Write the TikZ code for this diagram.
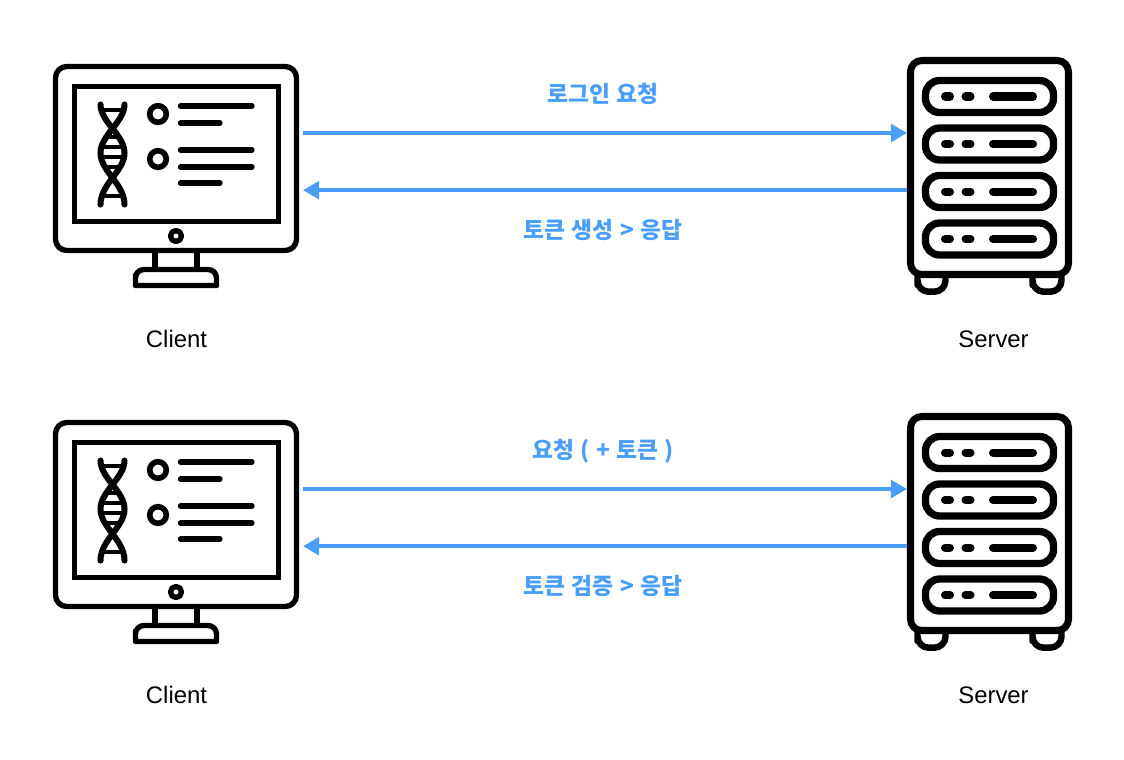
\documentclass[tikz,border=0pt]{standalone}
\usepackage{fontspec}
\setmainfont{Liberation Sans}
\newfontfamily\kofont[WordSpace=1.2]{Noto Sans CJK KR}
\usetikzlibrary{arrows.meta}
\definecolor{flowblue}{HTML}{4A9EFA}
\tikzset{
    icon/.style={line width=3.8pt, line join=round, line cap=round},
    flow/.style={draw=flowblue, line width=2.8pt, -{Triangle[length=11.5pt,width=12.5pt]}},
    flowtext/.style={text=flowblue, font=\kofont\bfseries\fontsize{16.2}{18}\selectfont, inner sep=0pt},
    hosttext/.style={font=\fontsize{17}{20}\selectfont, inner sep=0pt},
    client/.pic={
        % Ecran
        \draw[icon, rounded corners=8] (55.5,66.5) rectangle (296.5,250.5);
        \draw[icon, line join=miter] (74.5,86.5) rectangle (278.5,221.5);
        \draw[icon] (176,236) circle (5.5);
        % Pied
        \draw[icon, line cap=butt] (155,253) -- (155,268);
        \draw[icon, line cap=butt] (197,253) -- (197,268);
        \draw[icon] (135.5,285.5) -- (135.5,275) [rounded corners=6] -- (135.5,269.5) -- (216.5,269.5) [sharp corners] -- (216.5,285.5) -- cycle;
        % Lignes de texte
        \draw[icon, line width=4pt] (158,114) circle (8.3);
        \draw[icon, line width=4pt] (158,159) circle (8.3);
        \foreach \ly/\lx in {106/252, 123/220, 150/252, 167/252, 183/220}
            \draw[icon] (180.5,\ly) -- (\lx,\ly);
        % Adn
        \draw[icon, line width=4.3pt] (124.5,104.5) .. controls (124.5,122) and (100.5,135) .. (100.5,153) .. controls (100.5,171) and (124.5,184) .. (124.5,204.5);
        \draw[icon, line width=4.3pt] (100.5,104.5) .. controls (100.5,122) and (124.5,135) .. (124.5,153) .. controls (124.5,171) and (100.5,184) .. (100.5,204.5);
        \foreach \ry/\rw in {110/10, 137/7, 147/11, 157/11, 167/7, 196/10}
            \draw[icon, line width=2.9pt, line cap=butt] (112.5-\rw,\ry) -- (112.5+\rw,\ry);
        % Points d'accroche
        \coordinate (-upper) at (303,133);
        \coordinate (-lower) at (303,190.2);
    },
    server/.pic={
        % Pieds
        \draw[icon, line width=4.6pt] (917.5,276) -- (917.5,285) [rounded corners=8] -- (917.5,291.7) -- (945.5,291.7) [sharp corners] -- (945.5,276);
        \draw[icon, line width=4.6pt] (1032.5,276) -- (1032.5,285) [rounded corners=8] -- (1032.5,291.7) -- (1061.5,291.7) [sharp corners] -- (1061.5,276);
        % Boitier
        \draw[icon, line width=5pt, fill=white, rounded corners=8] (910.5,60.5) rectangle (1068.5,274.5);
        % Tiroirs
        \foreach \sy in {0,47.5,95,142.5} {
            \draw[icon, line width=5.2pt, rounded corners=10] (925.5,80.5+\sy) rectangle (1053.5,112.5+\sy);
            \draw[icon, line width=5.7pt] (945,96.5+\sy) -- (950,96.5+\sy);
            \draw[icon, line width=5.7pt] (965.5,96.5+\sy) -- (970.5,96.5+\sy);
            \draw[icon, line width=5.7pt] (993,96.5+\sy) -- (1033,96.5+\sy);
        }
        % Points d'accroche
        \coordinate (-upper) at (907,133);
        \coordinate (-lower) at (907,190.2);
    },
}
\begin{document}
\begin{tikzpicture}[x=0.025cm, y=-0.025cm]
    \useasboundingbox (0,0) rectangle (1124,759);

    % Connexion
    \pic (clientA) at (0,0) {client};
    \pic (serverA) at (0,0) {server};
    \node[hosttext] (clientAtext) at (176.5,339) {Client};
    \node[hosttext] (serverAtext) at (993.5,339) {Server};
    \draw[flow] (clientA-upper) -- (serverA-upper);
    \draw[flow] (serverA-lower) -- (clientA-lower);
    \node[flowtext] (loginreq) at (603,94) {로그인 요청};
    \node[flowtext] (tokenres) at (603,230) {토큰 생성 > 응답};

    % Verification
    \pic (clientB) at (0,356) {client};
    \pic (serverB) at (0,356) {server};
    \node[hosttext] (clientBtext) at (176.5,695) {Client};
    \node[hosttext] (serverBtext) at (993.5,695) {Server};
    \draw[flow] (clientB-upper) -- (serverB-upper);
    \draw[flow] (serverB-lower) -- (clientB-lower);
    \node[flowtext] (tokenreq) at (603,451) {요청 ( + 토큰 )};
    \node[flowtext] (checkres) at (603,586) {토큰 검증 > 응답};
\end{tikzpicture}
\end{document}
